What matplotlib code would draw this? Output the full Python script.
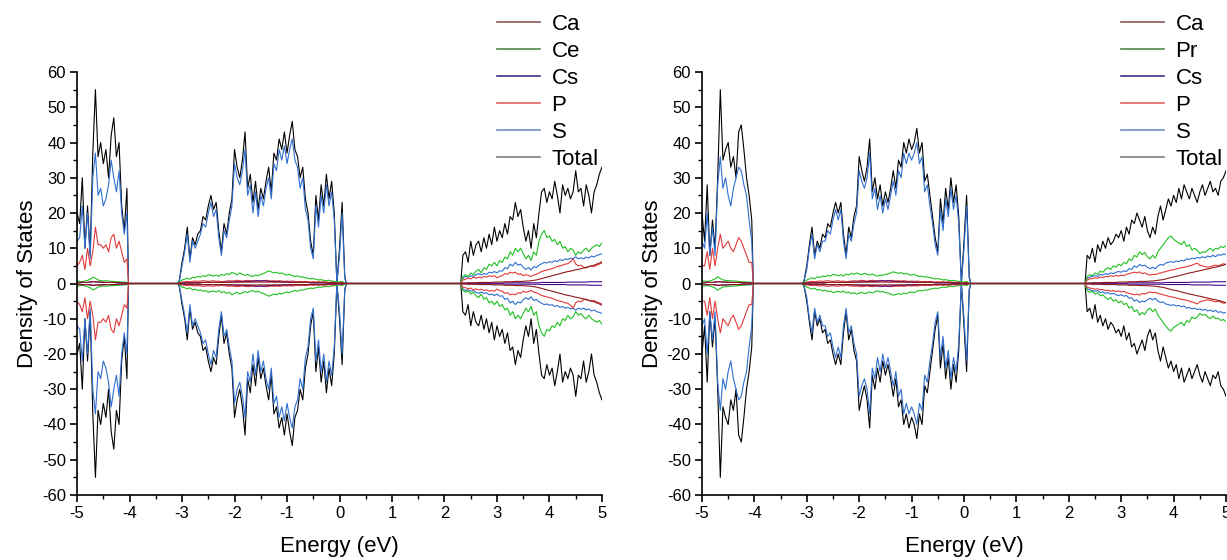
import numpy as np
import matplotlib
matplotlib.use("Agg")
import matplotlib.pyplot as plt
from matplotlib.lines import Line2D
from matplotlib.ticker import MultipleLocator

plt.rcParams['font.family'] = ['Liberation Sans', 'DejaVu Sans']
plt.rcParams['axes.unicode_minus'] = False

# ---------------- energy grids of the three bands (eV) ----------------
band1_E = np.round(np.arange(-5.00, -4.025, 0.05), 2)   # 20 points
band2_E = np.round(np.arange(-3.05, 0.125, 0.05), 2)    # 64 points
band3_E = np.round(np.arange(2.35, 5.025, 0.05), 2)     # 54 points
gap_edges = [(-4.02, -3.08), (0.13, 2.31)]

# ---------------- left panel (Ca, Ce, Cs, P, S, Total) ----------------
L_total_1 = [20, 17, 30, 10, 22, 8, 37, 55, 36, 40, 34, 38, 30, 42, 47, 36, 40, 22, 15, 27]
L_S_1 = [12, 13, 22, 10, 20, 7, 30, 37, 25, 27, 22, 24, 28, 35, 30, 26, 32, 20, 14, 20]
L_P_1 = [5, 6, 8, 4, 10, 5, 9, 16, 11, 11, 10, 11, 9, 13, 14, 10, 12, 9, 6, 7]
L_Ce_1 = [0.8, 0.6, 0.5, 0.7, 0.9, 1.2, 1.8, 1.5, 1.0, 0.8, 0.7, 0.8, 0.7, 0.6, 0.6, 0.5, 0.5, 0.4, 0.4, 0.3]
L_Cs_1 = [0.2, 0.2, 0.3, 0.3, 0.3, 0.4, 0.5, 0.5, 0.4, 0.4, 0.3, 0.3, 0.3, 0.3, 0.3, 0.2, 0.2, 0.2, 0.2, 0.1]
L_Ca_1 = [0.3, 0.3, 0.4, 0.3, 0.3, 0.4, 0.5, 0.5, 0.4, 0.4, 0.4, 0.3, 0.3, 0.3, 0.3, 0.3, 0.2, 0.2, 0.2, 0.1]

L_total_2 = [1, 6, 10, 16, 7, 13, 11, 14,
             15, 19, 18, 22, 25, 21, 23, 15,
             9, 17, 14, 20, 24, 38, 33, 30,
             35, 43, 27, 31, 23, 29, 21, 27,
             24, 29, 33, 26, 37, 35, 41, 38,
             43, 37, 42, 46, 38, 36, 30, 33,
             24, 20, 12, 8, 25, 18, 28, 22,
             31, 24, 29, 20, 0, 10, 23, 2]
L_S_2 = [0.8, 5, 9, 14, 6, 12, 10, 12,
         14, 17, 16, 20, 23, 19, 21, 13,
         8, 15, 13, 18, 22, 34, 30, 28,
         32, 38, 25, 28, 20, 26, 19, 25,
         22, 27, 30, 24, 34, 32, 38, 35,
         39, 34, 38, 41, 35, 33, 27, 30,
         21, 18, 10, 7, 22, 16, 25, 20,
         28, 22, 26, 18, 0, 8, 20, 1.5]
L_Ce_2 = [0.5, 1, 1.2, 1.5, 1.2, 1.8, 1.6, 2,
          1.8, 2.2, 2, 2.5, 2.3, 2.1, 2.4, 2,
          2.6, 2.3, 2.8, 2.5, 3.2, 2.8, 2.5, 3,
          2.6, 2.3, 2.6, 2.2, 2, 2.4, 2.2, 2.6,
          2.8, 3.2, 3.6, 3.3, 3.0, 3.2, 2.8, 3.0,
          2.6, 2.4, 2.6, 2.2, 2.0, 2.2, 1.8, 1.9,
          1.6, 1.5, 1.3, 1.4, 1.2, 1.0, 1.1, 0.9,
          0.8, 0.9, 0.7, 0.6, 0.5, 0.4, 0.6, 0.1]
L_P_2 = [0.2, 0.4, 0.5, 0.6, 0.5, 0.6, 0.7, 0.6,
         0.7, 0.8, 0.7, 0.6, 0.7, 0.8, 0.6, 0.7,
         0.5, 0.6, 0.7, 0.8, 0.7, 0.8, 0.9, 0.8,
         0.7, 0.8, 0.9, 0.8, 0.7, 0.9, 0.8, 0.7,
         0.8, 0.9, 0.8, 0.7, 0.8, 0.7, 0.8, 0.7,
         0.6, 0.7, 0.6, 0.7, 0.6, 0.5, 0.6, 0.5,
         0.6, 0.5, 0.4, 0.5, 0.4, 0.5, 0.4, 0.5,
         0.4, 0.3, 0.4, 0.3, 0.1, 0.2, 0.3, 0.0]
L_Cs_2 = [0.1, 0.1, 0.2, 0.2, 0.2, 0.2, 0.3, 0.2,
          0.3, 0.3, 0.3, 0.3, 0.3, 0.3, 0.3, 0.3,
          0.3, 0.3, 0.4, 0.4, 0.4, 0.4, 0.5, 0.5,
          0.5, 0.6, 0.6, 0.6, 0.7, 0.7, 0.8, 0.7,
          0.8, 0.7, 0.6, 0.6, 0.5, 0.5, 0.5, 0.4,
          0.4, 0.4, 0.4, 0.4, 0.3, 0.3, 0.3, 0.3,
          0.3, 0.3, 0.2, 0.2, 0.2, 0.2, 0.2, 0.2,
          0.2, 0.1, 0.1, 0.1, 0.0, 0.1, 0.1, 0.0]
L_Ca_2 = [0.1, 0.1, 0.1, 0.2, 0.2, 0.2, 0.2, 0.2,
          0.2, 0.3, 0.3, 0.3, 0.3, 0.3, 0.3, 0.3,
          0.3, 0.3, 0.3, 0.3, 0.4, 0.4, 0.4, 0.4,
          0.4, 0.4, 0.4, 0.4, 0.4, 0.4, 0.4, 0.4,
          0.4, 0.4, 0.4, 0.4, 0.4, 0.4, 0.4, 0.4,
          0.4, 0.4, 0.3, 0.3, 0.3, 0.3, 0.3, 0.3,
          0.3, 0.3, 0.3, 0.3, 0.3, 0.3, 0.3, 0.3,
          0.2, 0.2, 0.2, 0.2, 0.0, 0.1, 0.1, 0.0]

L_total_3 = [8, 9, 6, 12, 8, 11, 12, 9, 13, 10, 14, 11, 16, 12, 15, 13, 17, 14,
             19, 18, 23, 19, 21, 16, 12, 15, 10, 17, 13, 20, 26, 27, 23, 26, 24, 29,
             25, 20, 28, 25, 27, 24, 26, 32, 26, 27, 22, 28, 25, 20, 26, 28, 31, 33]
L_Ce_3 = [2, 2.5, 2, 3, 2.5, 3.5, 4, 3, 4.5, 4, 5.5, 5, 6, 5, 6.5, 6, 7.5, 7,
          9, 8, 10, 9, 10, 8.5, 7, 8, 6.5, 9, 8, 12, 14, 15, 13, 13.5, 12, 12.5,
          11, 12, 10, 10.5, 9, 10, 9.5, 8, 9, 8.5, 9.5, 10, 9, 10, 10.5, 11, 10.5, 11.5]
L_S_3 = [1.5, 2, 1.8, 2.2, 2, 2.5, 2.8, 2.4, 2.8, 2.6, 3.2, 3, 3.4, 3, 3.6, 3.5, 4.5, 4.2,
         5.5, 5, 6, 5.2, 5.5, 4.6, 4, 4.5, 3.8, 4.8, 4.5, 5.2, 5.6, 6, 5.8, 6.2, 6, 6.5,
         6.2, 6.8, 6.5, 7, 6.8, 7.2, 7, 7.6, 7, 7.3, 7, 7.5, 7.2, 7.8, 7.5, 8, 8.2, 8.5]
L_P_3 = [1, 1.2, 1.5, 1.3, 1.8, 1.5, 1.8, 1.6, 2, 1.8, 2.2, 2, 2.2, 1.6, 2, 2.2, 2.8, 2.6,
         3.2, 3, 3.2, 2.6, 2.8, 2.2, 2.5, 2.3, 2, 2.4, 2.6, 3, 3.4, 3.6, 3.8, 4, 4.2, 4.5,
         4.8, 5, 5.2, 5.5, 5.6, 6.2, 7, 5.5, 5, 5.2, 4.6, 4.4, 4.8, 5, 4.8, 5.2, 5.5, 5.8]
L_Ca_3 = [0.1, 0.1, 0.2, 0.2, 0.2, 0.2, 0.3, 0.3, 0.3, 0.3, 0.3, 0.3, 0.4, 0.4, 0.4, 0.4, 0.5, 0.5,
          0.5, 0.5, 0.6, 0.6, 0.6, 0.6, 0.7, 0.7, 0.8, 0.9, 1.0, 1.2, 1.4, 1.6, 1.8, 2.0, 2.2, 2.4,
          2.6, 2.8, 3.0, 3.2, 3.4, 3.5, 3.7, 3.9, 4.0, 4.2, 4.4, 4.6, 4.8, 5.0, 5.2, 5.5, 5.8, 6.2]
L_Cs_3 = [0.1, 0.1, 0.1, 0.1, 0.1, 0.1, 0.1, 0.1, 0.1, 0.1, 0.1, 0.1, 0.1, 0.1, 0.1, 0.1, 0.2, 0.2,
          0.2, 0.2, 0.2, 0.2, 0.2, 0.2, 0.2, 0.2, 0.2, 0.2, 0.2, 0.2, 0.3, 0.3, 0.3, 0.3, 0.3, 0.3,
          0.3, 0.3, 0.3, 0.3, 0.4, 0.4, 0.4, 0.4, 0.4, 0.4, 0.4, 0.4, 0.5, 0.5, 0.5, 0.5, 0.5, 0.5]

# ---------------- right panel (Ca, Pr, Cs, P, S, Total) ----------------
R_total_1 = [20, 12, 28, 8, 18, 10, 30, 55, 35, 38, 40, 33, 36, 30, 43, 45, 38, 30, 25, 18]
R_S_1 = [12, 10, 20, 8, 16, 8, 28, 36, 27, 30, 25, 22, 27, 30, 33, 32, 28, 25, 18, 12]
R_P_1 = [5, 5, 9, 4, 10, 5, 10, 14, 10, 11, 12, 10, 9, 11, 13, 12, 10, 8, 6, 6]
R_Pr_1 = [0.8, 0.7, 0.6, 0.7, 1.0, 1.3, 1.9, 1.4, 1.0, 0.9, 0.8, 0.8, 0.7, 0.7, 0.6, 0.5, 0.5, 0.4, 0.4, 0.3]
R_Cs_1 = [0.2, 0.2, 0.3, 0.3, 0.3, 0.4, 0.5, 0.5, 0.4, 0.4, 0.3, 0.3, 0.3, 0.3, 0.3, 0.2, 0.2, 0.2, 0.2, 0.1]
R_Ca_1 = [0.3, 0.3, 0.4, 0.3, 0.3, 0.4, 0.5, 0.5, 0.4, 0.4, 0.4, 0.3, 0.3, 0.3, 0.3, 0.3, 0.2, 0.2, 0.2, 0.1]

R_total_2 = [1, 5, 11, 16, 8, 12, 10, 14,
             13, 17, 16, 20, 23, 20, 23, 14,
             8, 16, 13, 19, 22, 36, 32, 29,
             33, 41, 26, 30, 24, 28, 22, 26,
             23, 27, 32, 27, 35, 33, 40, 37,
             41, 38, 40, 44, 37, 40, 29, 31,
             25, 19, 13, 9, 24, 17, 27, 21,
             30, 23, 28, 19, 0, 12, 25, 2]
R_S_2 = [0.8, 4, 10, 14, 7, 11, 9, 12,
         12, 15, 14, 18, 21, 18, 21, 12,
         7, 14, 12, 17, 20, 32, 29, 27,
         30, 37, 24, 27, 21, 25, 20, 24,
         21, 25, 29, 25, 32, 30, 37, 34,
         37, 35, 37, 40, 34, 36, 26, 28,
         22, 17, 11, 8, 21, 15, 24, 19,
         27, 21, 25, 17, 0, 10, 22, 1.5]
R_Pr_2 = [0.5, 1, 1.3, 1.6, 1.3, 1.9, 1.7, 2.1,
          1.9, 2.3, 2.1, 2.6, 2.4, 2.2, 2.5, 2.1,
          2.7, 2.4, 2.9, 2.6, 3.0, 2.7, 2.5, 2.9,
          2.6, 2.4, 2.7, 2.3, 2.1, 2.4, 2.3, 2.6,
          2.7, 3.0, 3.3, 3.1, 2.9, 3.1, 2.7, 2.9,
          2.5, 2.4, 2.6, 2.2, 2.0, 2.1, 1.8, 1.9,
          1.6, 1.5, 1.3, 1.4, 1.2, 1.0, 1.1, 0.9,
          0.8, 0.9, 0.7, 0.6, 0.5, 0.4, 0.6, 0.1]
R_P_2 = L_P_2[:]
R_Cs_2 = L_Cs_2[:]
R_Ca_2 = L_Ca_2[:]

R_total_3 = [8, 7, 10, 6, 11, 9, 12, 10, 13, 11, 12, 14, 13, 15, 12, 16, 14, 18,
             17, 20, 18, 16, 19, 15, 13, 16, 14, 19, 22, 18, 21, 24, 22, 25, 23, 27,
             24, 28, 26, 24, 27, 25, 23, 26, 28, 25, 27, 29, 26, 27, 25, 29, 30, 32]
R_Pr_3 = [2, 2.5, 2.2, 3, 2.6, 3.5, 3.2, 4, 4.5, 4, 5, 4.6, 5.5, 5, 6, 5.6, 7, 6.5,
          8, 7.5, 9, 8.2, 8.8, 7.5, 7, 8, 7.2, 9, 10, 11, 12, 13, 13.5, 12.5, 12, 11.5,
          11, 12, 10.5, 11, 9.5, 10, 9.5, 8.5, 9, 8.8, 9.5, 10, 9.2, 10, 9.8, 10.5, 10.2, 10.8]
R_S_3 = [1.5, 1.8, 2, 2.2, 2, 2.6, 2.4, 2.8, 2.6, 3, 2.8, 3.2, 3.4, 3.2, 3.6, 3.4, 4.2, 4,
         5, 4.6, 5.4, 5, 5.2, 4.6, 4.2, 4.6, 4.2, 5, 5.4, 5.2, 5.8, 6, 6.2, 6, 6.4, 6.2,
         6.6, 6.4, 7, 6.8, 7.2, 7, 7.4, 7.2, 7.6, 7.3, 7.8, 7.5, 8, 7.6, 8.2, 8, 8.4, 8.2]
R_P_3 = [1, 1.3, 1.4, 1.6, 1.5, 1.8, 1.7, 2, 1.9, 2.2, 2, 2.3, 2.1, 2.4, 2.2, 2.6, 2.8, 3,
         3.2, 3, 3.3, 2.8, 3, 2.6, 2.4, 2.6, 2.5, 2.8, 3, 3.2, 3.4, 3.6, 3.8, 3.9, 4.1, 4.3,
         4.5, 4.6, 4.8, 5, 5.2, 5.5, 5.8, 5.2, 5, 4.8, 4.6, 4.8, 5, 5.2, 5, 5.3, 5.6, 5.4]
R_Ca_3 = [0.1, 0.1, 0.2, 0.2, 0.2, 0.2, 0.3, 0.3, 0.3, 0.3, 0.3, 0.3, 0.4, 0.4, 0.4, 0.4, 0.5, 0.5,
          0.5, 0.5, 0.6, 0.6, 0.6, 0.6, 0.7, 0.7, 0.8, 0.9, 1.0, 1.1, 1.3, 1.5, 1.7, 1.9, 2.0, 2.2,
          2.4, 2.6, 2.8, 3.0, 3.1, 3.3, 3.5, 3.6, 3.8, 4.0, 4.1, 4.3, 4.5, 4.6, 4.8, 5.0, 5.2, 5.5]
R_Cs_3 = L_Cs_3[:]

species_left = ['Ca', 'Ce', 'Cs', 'P', 'S', 'Total']
species_right = ['Ca', 'Pr', 'Cs', 'P', 'S', 'Total']
colors = {'Ca': '#8B1A1A', 'Ce': '#22C022', 'Pr': '#22C022', 'Cs': '#4B0a8A',
          'P': '#E03A3A', 'S': '#2F6FD0', 'Total': '#000000'}
legend_colors = {'Ca': '#8a5a5a', 'Ce': '#4a8a4a', 'Pr': '#4a8a4a', 'Cs': '#45308a',
                 'P': '#e06060', 'S': '#7090c8', 'Total': '#808080'}

left_data = {
    'Ca': (L_Ca_1, L_Ca_2, L_Ca_3), 'Ce': (L_Ce_1, L_Ce_2, L_Ce_3),
    'Cs': (L_Cs_1, L_Cs_2, L_Cs_3), 'P': (L_P_1, L_P_2, L_P_3),
    'S': (L_S_1, L_S_2, L_S_3), 'Total': (L_total_1, L_total_2, L_total_3)}
right_data = {
    'Ca': (R_Ca_1, R_Ca_2, R_Ca_3), 'Pr': (R_Pr_1, R_Pr_2, R_Pr_3),
    'Cs': (R_Cs_1, R_Cs_2, R_Cs_3), 'P': (R_P_1, R_P_2, R_P_3),
    'S': (R_S_1, R_S_2, R_S_3), 'Total': (R_total_1, R_total_2, R_total_3)}


def assemble(parts):
    b1, b2, b3 = parts
    E = np.concatenate([band1_E, list(gap_edges[0]), band2_E, list(gap_edges[1]), band3_E])
    V = np.concatenate([b1, [0, 0], b2, [0, 0], b3])
    return E, V


fig = plt.figure(figsize=(12.27, 5.60), dpi=100)
ax_l = fig.add_axes([0.0628, 0.1161, 0.4278, 0.7553])
ax_r = fig.add_axes([0.5721, 0.1161, 0.4271, 0.7553])

draw_order = ['Total', 'S', 'Ce', 'Pr', 'P', 'Cs', 'Ca']

for ax, data, names in ((ax_l, left_data, species_left), (ax_r, right_data, species_right)):
    for name in draw_order:
        if name not in data:
            continue
        E, V = assemble(data[name])
        ax.plot(E, V, color=colors[name], lw=0.8)
        ax.plot(E, -V, color=colors[name], lw=0.8)
    ax.set_xlim(-5, 5)
    ax.set_ylim(-60, 60)
    ax.xaxis.set_major_locator(MultipleLocator(1))
    ax.xaxis.set_minor_locator(MultipleLocator(0.5))
    ax.yaxis.set_major_locator(MultipleLocator(10))
    ax.yaxis.set_minor_locator(MultipleLocator(5))
    for s in ('top', 'right'):
        ax.spines[s].set_visible(False)
    for s in ('left', 'bottom'):
        ax.spines[s].set_linewidth(1.2)
    ax.tick_params(which='major', direction='out', length=5, width=1.2, labelsize=12, pad=3)
    ax.tick_params(which='minor', direction='out', length=3, width=1.0)
    ax.set_xlabel('Energy (eV)', fontsize=16, labelpad=11)
    ax.set_ylabel('Density of States', fontsize=16, labelpad=3)

    handles = [Line2D([], [], color=legend_colors[n], lw=1.2) for n in names]
    bb = ax.get_position()
    ax.legend(handles, names, loc='upper left', frameon=False, fontsize=16,
              bbox_to_anchor=(bb.x1 - 116 / 1227, 1 - 3 / 560), bbox_transform=fig.transFigure,
              borderpad=0, handlelength=1.95, handletextpad=0.5, labelspacing=0.27)

fig.savefig('out.png', dpi=100)
